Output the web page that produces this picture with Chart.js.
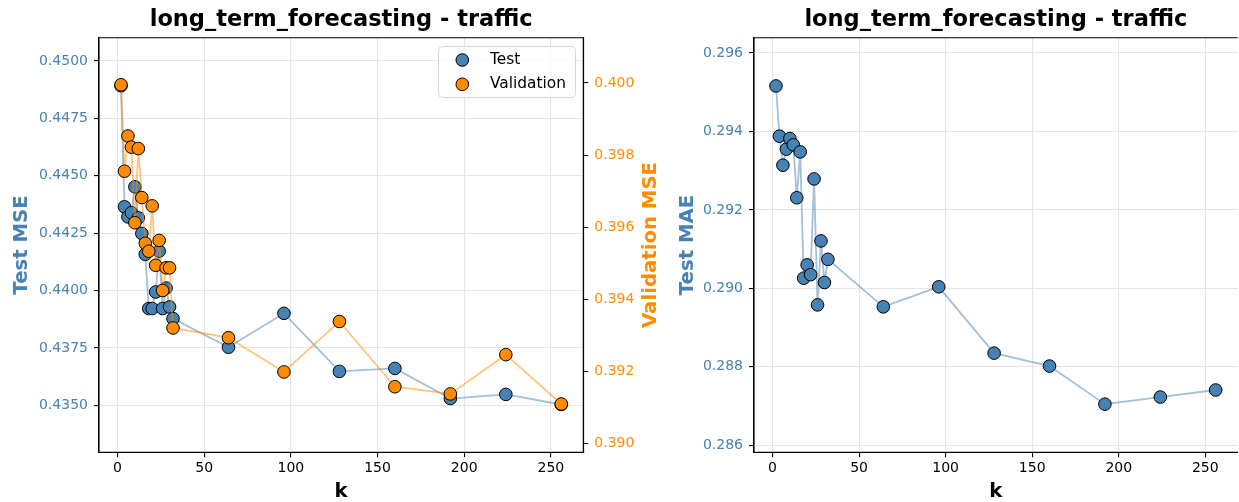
<!DOCTYPE html>
<html><head><meta charset="utf-8">
<script src="https://cdn.jsdelivr.net/npm/chart.js@4.4.1/dist/chart.umd.min.js"></script>
<style>
html,body{margin:0;padding:0;background:#fff;overflow:hidden;width:1239px;height:502px;}
canvas.c{position:absolute;top:0;}
</style></head><body>
<canvas id="c1" class="c" width="680" height="502" style="left:0px"></canvas>
<canvas id="c2" class="c" width="585" height="502" style="left:660px"></canvas>
<script>
// ---- data ----
const kValues = [2,4,6,8,10,12,14,16,18,20,22,24,26,28,30,32,64,96,128,160,192,224,256];
const testMSE = [0.44892,0.44365,0.44321,0.44339,0.44452,0.44317,0.44249,0.44158,0.43922,0.43922,0.43994,0.44172,0.43922,0.44011,0.43929,0.43878,0.43753,0.43901,0.43648,0.43661,0.43530,0.43548,0.43504];
const valMSE = [0.39995,0.39755,0.39853,0.39822,0.39612,0.39818,0.39682,0.39555,0.39533,0.39659,0.39494,0.39563,0.39424,0.39487,0.39487,0.39320,0.39293,0.39198,0.39338,0.39157,0.39137,0.39246,0.39109];
const testMAE = [0.29516,0.29388,0.29314,0.29355,0.29382,0.29366,0.29231,0.29348,0.29026,0.29060,0.29035,0.29279,0.28958,0.29121,0.29015,0.29074,0.28953,0.29004,0.28835,0.28802,0.28705,0.28723,0.28741];
const xTicks = [0,50,100,150,200,250];
const mseTicks = [0.4350,0.4375,0.4400,0.4425,0.4450,0.4475,0.4500];
const valTicks = [0.390,0.392,0.394,0.396,0.398,0.400];
const maeTicks = [0.286,0.288,0.290,0.292,0.294,0.296];
const chartTitle = 'long_term_forecasting - traffic';

const BLUE = '#4682B4', ORANGE = '#FF8C00';
const GRID = '#e6e6e6';
Chart.defaults.font.family = "'DejaVu Sans'";
Chart.defaults.color = '#000';

const toXY = (ys) => kValues.map((k, i) => ({x: k, y: ys[i]}));
const setTicks = (arr) => (scale) => { scale.ticks = arr.map(v => ({value: v})); };

const framePlugin = {
  id: 'frame',
  afterDraw(chart) {
    const {ctx, chartArea: a} = chart;
    const o = chart.options.plugins.frame || {};
    ctx.save();
    ctx.strokeStyle = '#000';
    ctx.lineWidth = 1.1;
    ctx.beginPath();
    ctx.moveTo(a.left, a.bottom);
    ctx.lineTo(a.left, a.top);
    ctx.lineTo(a.right, a.top);
    if (!o.noRight) ctx.lineTo(a.right, a.bottom);
    ctx.moveTo(a.left, a.bottom);
    ctx.lineTo(a.right, a.bottom);
    ctx.stroke();
    ctx.restore();
  }
};
const titlePlugin = {
  id: 'ttl',
  afterDraw(chart) {
    const {ctx, chartArea: a} = chart;
    ctx.save();
    ctx.fillStyle = '#000';
    ctx.font = "bold 22.5px 'DejaVu Sans'";
    ctx.textAlign = 'center';
    ctx.textBaseline = 'middle';
    ctx.fillText(chart.options.plugins.ttl.text, (a.left + a.right) / 2, 20);
    ctx.restore();
  }
};
const rightTitlePlugin = {
  id: 'rtitle',
  afterDraw(chart) {
    const o = chart.options.plugins.rtitle;
    if (!o || !o.text) return;
    const {ctx, chartArea: a} = chart;
    ctx.save();
    ctx.translate(o.x, (a.top + a.bottom) / 2);
    ctx.rotate(-Math.PI / 2);
    ctx.fillStyle = o.color;
    ctx.font = "bold 19.7px 'DejaVu Sans'";
    ctx.textAlign = 'center';
    ctx.textBaseline = 'middle';
    ctx.fillText(o.text, 0, 0);
    ctx.restore();
  }
};
const legendPlugin = {
  id: 'boxlegend',
  afterDraw(chart) {
    const o = chart.options.plugins.boxlegend;
    if (!o || !o.show) return;
    const {ctx} = chart;
    const x = 438.5, y = 46.5, w = 137, h = 51, r = 4;
    ctx.save();
    ctx.beginPath();
    ctx.roundRect(x, y, w, h, r);
    ctx.fillStyle = 'rgba(255,255,255,0.8)';
    ctx.fill();
    ctx.strokeStyle = 'rgba(204,204,204,0.8)';
    ctx.lineWidth = 1;
    ctx.stroke();
    const items = [chart.data.datasets[1], chart.data.datasets[0]];
    items.forEach((ds, i) => {
      const cy = 60 + i * 24.3;
      ctx.beginPath();
      ctx.arc(462.3, cy, 6.3, 0, Math.PI * 2);
      ctx.fillStyle = ds.pointBackgroundColor;
      ctx.fill();
      ctx.strokeStyle = '#000';
      ctx.lineWidth = 1;
      ctx.stroke();
      ctx.fillStyle = '#000';
      ctx.font = "15.4px 'DejaVu Sans'";
      ctx.textAlign = 'left';
      ctx.textBaseline = 'middle';
      ctx.fillText(ds.label, 490, cy);
    });
    ctx.restore();
  }
};

function xScale(height) {
  return {
    type: 'linear', min: -10.7, max: 268.7,
    afterBuildTicks: setTicks(xTicks),
    afterFit: (s) => { s.height = height; },
    grid: {color: GRID, lineWidth: 1.1, tickColor: '#000', tickLength: 5, tickWidth: 1.1},
    border: {display: true, color: '#000', width: 1.1},
    ticks: {font: {size: 14}, color: '#000', padding: 3, maxRotation: 0,
            callback: (v) => String(v)},
    title: {display: true, text: 'k', color: '#000', font: {size: 19.7, weight: 'bold', lineHeight: 1}, padding: {top: 0, bottom: 0}}
  };
}
function lineDs(label, data, color, lineColor, axis) {
  return {
    label, data, yAxisID: axis, showLine: true,
    borderColor: lineColor, borderWidth: 1.8,
    pointBackgroundColor: color, pointBorderColor: '#000', pointBorderWidth: 1,
    pointRadius: 6.3, pointHoverRadius: 6.3, tension: 0
  };
}

new Chart(document.getElementById('c1'), {
  type: 'scatter',
  data: {
    datasets: [
      lineDs('Validation', toXY(valMSE), ORANGE, 'rgba(255,140,0,0.5)', 'y1'),
      lineDs('Test', toXY(testMSE), BLUE, 'rgba(70,130,180,0.5)', 'y')
    ]
  },
  options: {
    responsive: false, animation: false, devicePixelRatio: 1,
    layout: {padding: {top: 37.7, left: 0, right: 0, bottom: 0}},
    plugins: {legend: {display: false}, tooltip: {enabled: false}, title: {display: false},
      ttl: {text: chartTitle},
      frame: {noRight: false},
      rtitle: {text: 'Validation MSE', color: ORANGE, x: 651},
      boxlegend: {show: true}},
    scales: {
      x: xScale(49.7),
      y: {
        type: 'linear', position: 'left', min: 0.432958, max: 0.451015,
        afterBuildTicks: setTicks(mseTicks),
        afterFit: (s) => { s.width = 99; },
        grid: {color: GRID, lineWidth: 1.1, tickColor: '#000', tickLength: 5, tickWidth: 1.1},
        border: {display: true, color: '#000', width: 1.1},
        ticks: {font: {size: 14}, color: BLUE, padding: 6, callback: (v) => v.toFixed(4)},
        title: {display: true, text: 'Test MSE', color: BLUE, font: {size: 19.7, weight: 'bold', lineHeight: 1}, padding: {top: 12, bottom: 0}}
      },
      y1: {
        type: 'linear', position: 'right', min: 0.38975, max: 0.401257,
        afterBuildTicks: setTicks(valTicks),
        afterFit: (s) => { s.width = 680 - 583.3; },
        grid: {drawOnChartArea: false, tickColor: '#000', tickLength: 5, tickWidth: 1.1},
        border: {display: true, color: '#000', width: 1.1},
        ticks: {font: {size: 14}, color: ORANGE, padding: 6, callback: (v) => v.toFixed(3)}
      }
    }
  },
  plugins: [framePlugin, titlePlugin, rightTitlePlugin, legendPlugin]
});

new Chart(document.getElementById('c2'), {
  type: 'scatter',
  data: {
    datasets: [
      lineDs('Test', toXY(testMAE), BLUE, 'rgba(70,130,180,0.5)', 'y')
    ]
  },
  options: {
    responsive: false, animation: false, devicePixelRatio: 1,
    layout: {padding: {top: 37.7, left: 0, right: 4.5, bottom: 0}},
    plugins: {legend: {display: false}, tooltip: {enabled: false}, title: {display: false},
      frame: {noRight: true},
      ttl: {text: chartTitle}},
    scales: {
      x: xScale(49.7),
      y: {
        type: 'linear', position: 'left', min: 0.285822, max: 0.29639,
        afterBuildTicks: setTicks(maeTicks),
        afterFit: (s) => { s.width = 94; },
        grid: {color: GRID, lineWidth: 1.1, tickColor: '#000', tickLength: 5, tickWidth: 1.1},
        border: {display: true, color: '#000', width: 1.1},
        ticks: {font: {size: 14}, color: BLUE, padding: 6, callback: (v) => v.toFixed(3)},
        title: {display: true, text: 'Test MAE', color: BLUE, font: {size: 19.7, weight: 'bold', lineHeight: 1}, padding: {top: 18, bottom: 0}}
      }
    }
  },
  plugins: [framePlugin, titlePlugin]
});
</script>
</body></html>
